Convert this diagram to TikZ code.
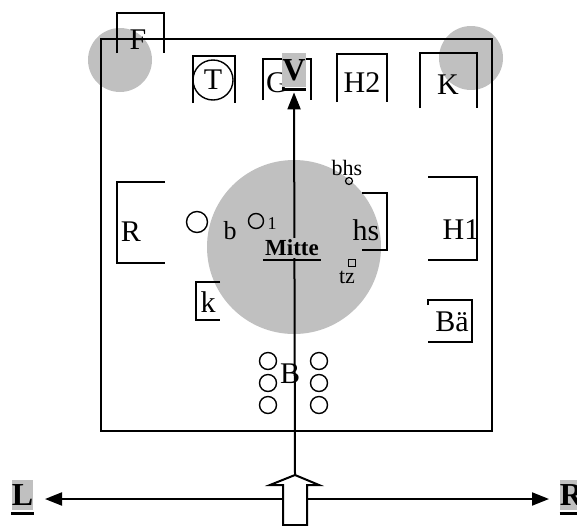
\documentclass[tikz,border=0pt]{standalone}
\usepackage{fontspec}
\setmainfont{Liberation Serif}
\usepackage{xcolor}
\usetikzlibrary{arrows.meta}
\definecolor{silber}{RGB}{192,192,192}
\tikzset{
	lbl/.style={inner sep=0pt, font=\fontsize{15}{15}\selectfont},
	klein/.style={inner sep=0pt, font=\fontsize{11}{11}\selectfont},
	fett/.style={inner sep=0pt, fill=silber, font=\bfseries\fontsize{16}{16}\selectfont},
	rahmen/.style={line width=1pt},
	ring/.style={circle, draw, line width=0.7pt, inner sep=0pt},
	pfeil/.style={line width=1pt, -{Triangle[length=8.5pt, width=6.5pt]}},
	strich/.style={line width=1.5pt}
}

\begin{document}
\begin{tikzpicture}[x=0.5pt, y=-0.5pt]
			\useasboundingbox (0,0) rectangle (577,525);
			\fill[silber] (120,60) circle[radius=16pt];
			\fill[silber] (471,58) circle[radius=16pt];
			\fill[silber] (294,247) circle[radius=43.5pt];

			\draw[rahmen] (101,39) rectangle (492,431);

			\node[lbl] (F) at (138,40) {F};
			\draw[rahmen] (117,53) |- (164,13) -- (164,53);
			\node[ring, minimum size=20pt, font=\fontsize{15}{15}\selectfont] (T) at (213,80) {T};
			\draw[rahmen] (193,103) |- (235,56) -- (235,103);
			\node[lbl] (G) at (277,83) {G};
			\draw[rahmen] (263,100) |- (311,59) -- (311,100);
			\node[lbl] (H2) at (362,83) {H2};
			\draw[rahmen] (337,102) |- (387,54) -- (387,102);
			\node[lbl] (K) at (448,85) {K};
			\draw[rahmen] (420,108) |- (477,53) -- (477,108);

			\node[lbl] (R) at (131,232) {R};
			\draw[rahmen] (165,182) -| (117,263) -- (165,263);
			\node[ring, minimum size=10.5pt] (bkreis) at (197,222) {};
			\node[inner sep=0pt, font=\fontsize{13}{13}\selectfont] (b) at (230,231) {b};
			\node[ring, minimum size=7.5pt] (einskreis) at (256,221) {};
			\node[inner sep=0pt, font=\fontsize{9}{9}\selectfont] (eins) at (272,224) {1};
			\node[lbl] (k) at (208,302) {k};
			\draw[rahmen] (220,282) -| (196,320) -- (220,320);

			\node[klein] (bhs) at (347,168) {bhs};
			\node[ring, minimum size=3.5pt, line width=0.6pt] (bhskreis) at (349,181) {};
			\node[lbl] (hs) at (366,230) {hs};
			\draw[rahmen] (362,193) -| (387,250) -- (362,250);
			\node[draw, line width=0.6pt, minimum size=3.5pt, inner sep=0pt] (tzkasten) at (352,263) {};
			\node[klein] (tz) at (347,277) {tz};
			\node[lbl] (H1) at (461,230) {H1};
			\draw[rahmen] (428,177) -| (477,260) -- (428,260);
			\node[lbl] (Bae) at (452,322) {Bä};
			\draw[rahmen] (428,305) |- (472,300) |- (428,342);

			\foreach \y in {361,383,405} {
				\node[ring, minimum size=8.5pt] at (268,\y) {};
				\node[ring, minimum size=8.5pt] at (319,\y) {};
			}

			\coordinate (spitze) at (295,475);
			\node[fett, minimum width=12pt, minimum height=17pt] (V) at (294,70) {V};
			\draw[pfeil, shorten >=2.5pt] (spitze) -- (V.south);
			\draw[strich] ([yshift=-1pt]V.south west) -- ([yshift=-1pt]V.south east);

			\node[lbl] (B) at (290,374) {B};
			\node[fill=silber, inner sep=1pt, font=\bfseries\fontsize{11.5}{11.5}\selectfont] (Mitte) at (292,248) {Mitte};
			\draw[line width=1pt] ([yshift=-1pt]Mitte.south west) -- ([yshift=-1pt]Mitte.south east);

			\node[fett, minimum width=10.5pt, minimum height=15pt] (L) at (22.5,495) {L};
			\draw[strich] ([yshift=-1.5pt]L.south west) -- ([yshift=-1.5pt]L.south east);
			\node[fett, minimum width=11.5pt, minimum height=15pt] (Rr) at (571.5,495) {R};
			\draw[strich] ([yshift=-1.5pt]Rr.south west) -- ([yshift=-1.5pt]Rr.south east);
			\coordinate (links) at (45,499);
			\coordinate (rechts) at (549,499);
			\draw[pfeil, {Triangle[length=8.5pt, width=6.5pt]}-{Triangle[length=8.5pt, width=6.5pt]}] (links) -- (rechts);
			\draw[rahmen, fill=white] (spitze) -- (319,485) -- (307,485) -- (307,525) -- (283,525) -- (283,485) -- (270,485) -- cycle;
		\end{tikzpicture}
\end{document}
